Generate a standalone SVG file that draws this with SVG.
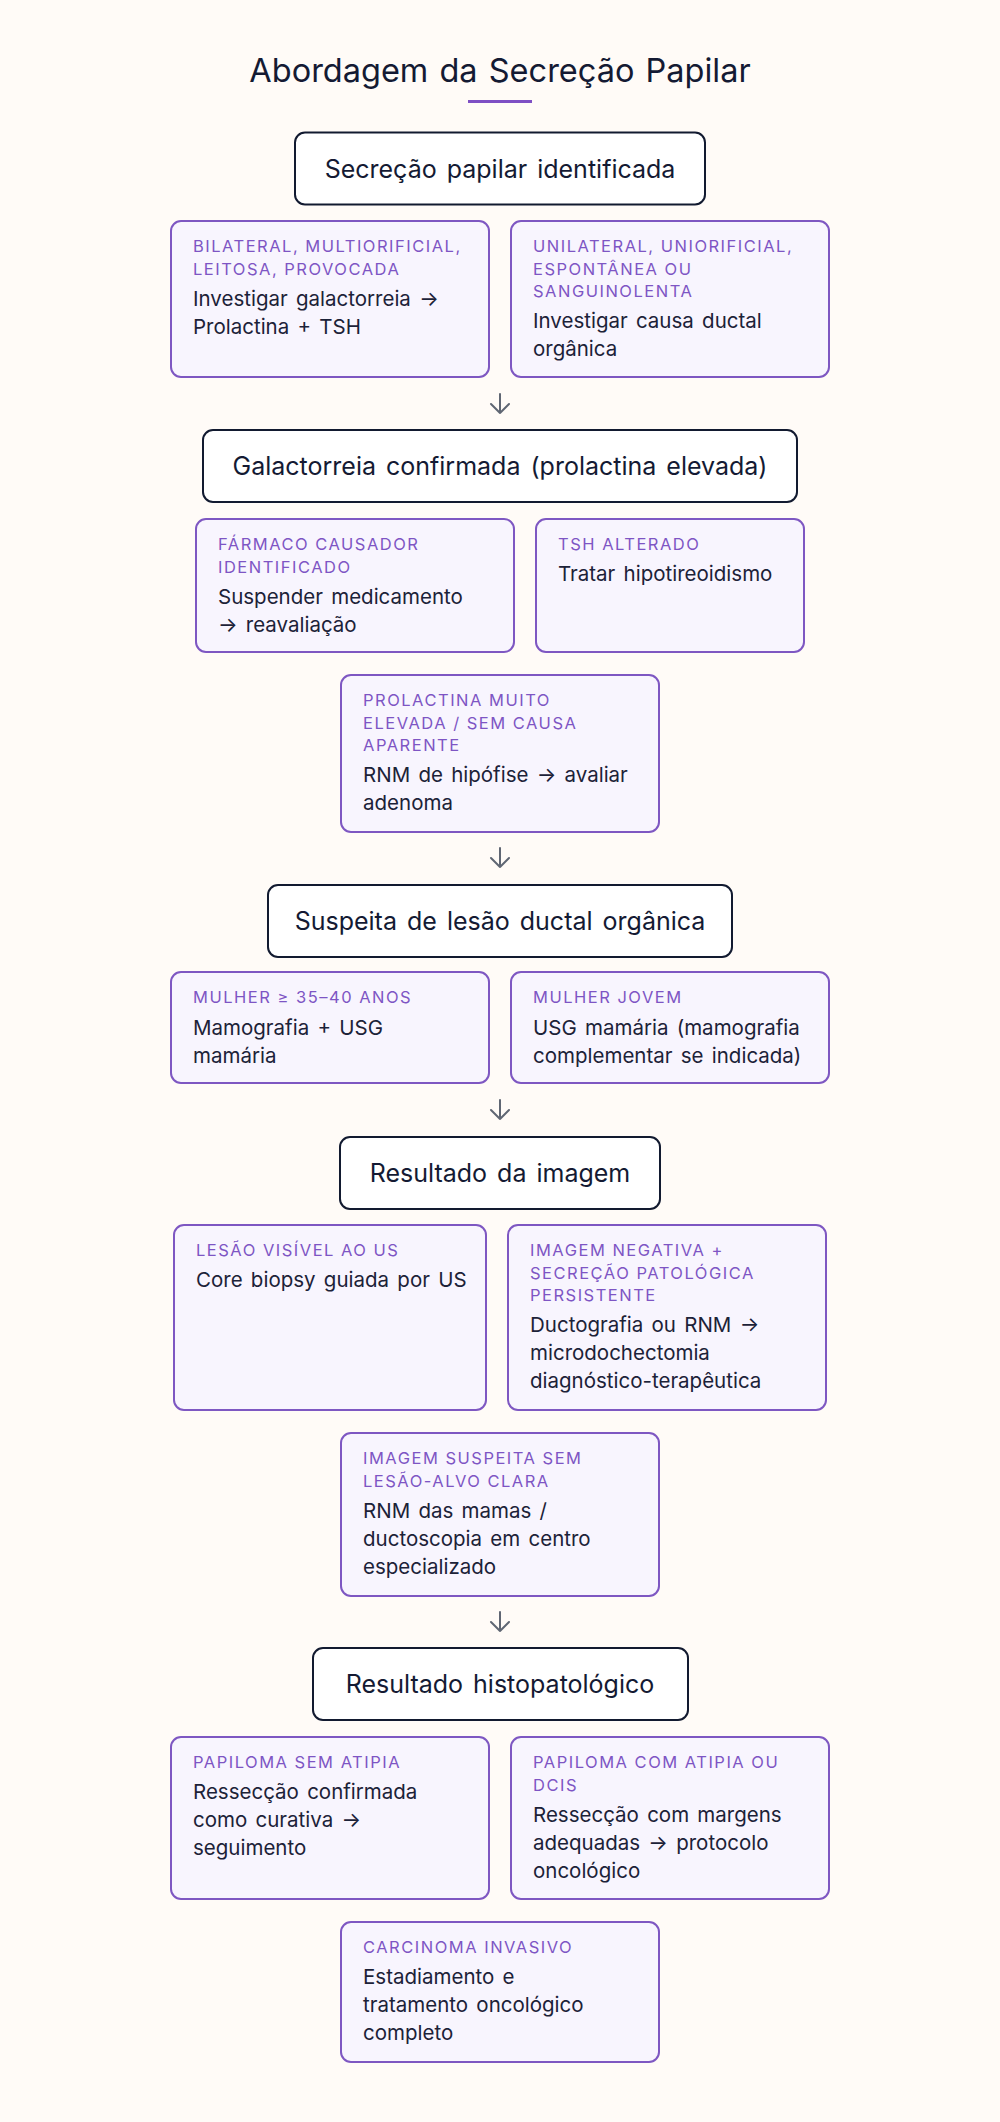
<svg xmlns="http://www.w3.org/2000/svg" width="1000" height="2122" viewBox="0 0 1000 2122">
<style>
.title{font-family:Inter,"Liberation Sans",sans-serif;font-size:32.5px;fill:#141a33;text-anchor:middle;word-spacing:2px}
.node rect{fill:#ffffff;stroke:#121a30;stroke-width:2}
.node text{font-family:Inter,"Liberation Sans",sans-serif;font-size:25px;fill:#141a33;text-anchor:middle;word-spacing:3px}
.opt rect{fill:#f8f5fe;stroke:#7e57c2;stroke-width:2}
.lbl{font-family:Inter,"Liberation Sans",sans-serif;font-size:16.5px;fill:#7e55c4;letter-spacing:1.5px}
.bd{font-family:Inter,"Liberation Sans",sans-serif;font-size:20.5px;fill:#1c2238;word-spacing:2.5px}
.conn path{fill:none;stroke:#5f6673;stroke-width:2;stroke-linecap:round;stroke-linejoin:round}
</style>
<rect x="0" y="0" width="1000" height="2122" fill="#fffbf7"/>
<text class="title" x="500" y="82">Abordagem da Secreção Papilar</text>
<rect x="468" y="100" width="64" height="3" fill="#7e4fc4"/>

<g id="n1" class="node"><rect x="295" y="132.5" width="410" height="72" rx="10"/><text x="500" y="177.5">Secreção papilar identificada</text></g>

<g id="o1a" class="opt"><rect x="171" y="221" width="318" height="156" rx="10"/>
<text class="lbl" x="193" y="252">BILATERAL, MULTIORIFICIAL,</text><text class="lbl" x="193" y="274.7">LEITOSA, PROVOCADA</text>
<text class="bd" x="193" y="305.7">Investigar galactorreia →</text><text class="bd" x="193" y="333.7">Prolactina + TSH</text></g>
<g id="o1b" class="opt"><rect x="511" y="221" width="318" height="156" rx="10"/>
<text class="lbl" x="533" y="252">UNILATERAL, UNIORIFICIAL,</text><text class="lbl" x="533" y="274.7">ESPONTÂNEA OU</text><text class="lbl" x="533" y="297.4">SANGUINOLENTA</text>
<text class="bd" x="533" y="328.4">Investigar causa ductal</text><text class="bd" x="533" y="356.4">orgânica</text></g>

<g id="n2" class="node"><rect x="203" y="430" width="594" height="72" rx="10"/><text x="500" y="475">Galactorreia confirmada (prolactina elevada)</text></g>

<g id="o2a" class="opt"><rect x="196" y="519" width="318" height="133" rx="10"/>
<text class="lbl" x="218" y="550">FÁRMACO CAUSADOR</text><text class="lbl" x="218" y="572.7">IDENTIFICADO</text>
<text class="bd" x="218" y="603.7">Suspender medicamento</text><text class="bd" x="218" y="631.7">→ reavaliação</text></g>
<g id="o2b" class="opt"><rect x="536" y="519" width="268" height="133" rx="10"/>
<text class="lbl" x="558" y="550">TSH ALTERADO</text>
<text class="bd" x="558" y="581">Tratar hipotireoidismo</text></g>
<g id="o2c" class="opt"><rect x="341" y="675" width="318" height="157" rx="10"/>
<text class="lbl" x="363" y="706">PROLACTINA MUITO</text><text class="lbl" x="363" y="728.7">ELEVADA / SEM CAUSA</text><text class="lbl" x="363" y="751.4">APARENTE</text>
<text class="bd" x="363" y="782.4">RNM de hipófise → avaliar</text><text class="bd" x="363" y="810.4">adenoma</text></g>

<g id="n3" class="node"><rect x="268" y="885" width="464" height="72" rx="10"/><text x="500" y="930">Suspeita de lesão ductal orgânica</text></g>

<g id="o3a" class="opt"><rect x="171" y="972" width="318" height="111" rx="10"/>
<text class="lbl" x="193" y="1003">MULHER ≥ 35–40 ANOS</text>
<text class="bd" x="193" y="1034.5">Mamografia + USG</text><text class="bd" x="193" y="1062.5">mamária</text></g>
<g id="o3b" class="opt"><rect x="511" y="972" width="318" height="111" rx="10"/>
<text class="lbl" x="533" y="1003">MULHER JOVEM</text>
<text class="bd" x="533" y="1034.5">USG mamária (mamografia</text><text class="bd" x="533" y="1062.5">complementar se indicada)</text></g>

<g id="n4" class="node"><rect x="340" y="1137" width="320" height="72" rx="10"/><text x="500" y="1182">Resultado da imagem</text></g>

<g id="o4a" class="opt"><rect x="174" y="1225" width="312" height="185" rx="10"/>
<text class="lbl" x="196" y="1256">LESÃO VISÍVEL AO US</text>
<text class="bd" x="196" y="1287">Core biopsy guiada por US</text></g>
<g id="o4b" class="opt"><rect x="508" y="1225" width="318" height="185" rx="10"/>
<text class="lbl" x="530" y="1256">IMAGEM NEGATIVA +</text><text class="lbl" x="530" y="1278.7">SECREÇÃO PATOLÓGICA</text><text class="lbl" x="530" y="1301.4">PERSISTENTE</text>
<text class="bd" x="530" y="1332.4">Ductografia ou RNM →</text><text class="bd" x="530" y="1360.4">microdochectomia</text><text class="bd" x="530" y="1388.4">diagnóstico-terapêutica</text></g>
<g id="o4c" class="opt"><rect x="341" y="1433" width="318" height="163" rx="10"/>
<text class="lbl" x="363" y="1464">IMAGEM SUSPEITA SEM</text><text class="lbl" x="363" y="1486.7">LESÃO-ALVO CLARA</text>
<text class="bd" x="363" y="1517.7">RNM das mamas /</text><text class="bd" x="363" y="1545.7">ductoscopia em centro</text><text class="bd" x="363" y="1573.7">especializado</text></g>

<g id="n5" class="node"><rect x="313" y="1648" width="375" height="72" rx="10"/><text x="500" y="1693">Resultado histopatológico</text></g>

<g id="o5a" class="opt"><rect x="171" y="1737" width="318" height="162" rx="10"/>
<text class="lbl" x="193" y="1768">PAPILOMA SEM ATIPIA</text>
<text class="bd" x="193" y="1799">Ressecção confirmada</text><text class="bd" x="193" y="1827">como curativa →</text><text class="bd" x="193" y="1855">seguimento</text></g>
<g id="o5b" class="opt"><rect x="511" y="1737" width="318" height="162" rx="10"/>
<text class="lbl" x="533" y="1768">PAPILOMA COM ATIPIA OU</text><text class="lbl" x="533" y="1790.7">DCIS</text>
<text class="bd" x="533" y="1821.7">Ressecção com margens</text><text class="bd" x="533" y="1849.7">adequadas → protocolo</text><text class="bd" x="533" y="1877.7">oncológico</text></g>
<g id="o5c" class="opt"><rect x="341" y="1922" width="318" height="140" rx="10"/>
<text class="lbl" x="363" y="1953">CARCINOMA INVASIVO</text>
<text class="bd" x="363" y="1984">Estadiamento e</text><text class="bd" x="363" y="2012">tratamento oncológico</text><text class="bd" x="363" y="2040">completo</text></g>

<g id="connectors" class="conn">
<path d="M500 394 V413 M491 404 L500 413 L509 404"/>
<path d="M500 848 V867 M491 858 L500 867 L509 858"/>
<path d="M500 1100 V1119 M491 1110 L500 1119 L509 1110"/>
<path d="M500 1612 V1631 M491 1622 L500 1631 L509 1622"/>
</g>
</svg>
